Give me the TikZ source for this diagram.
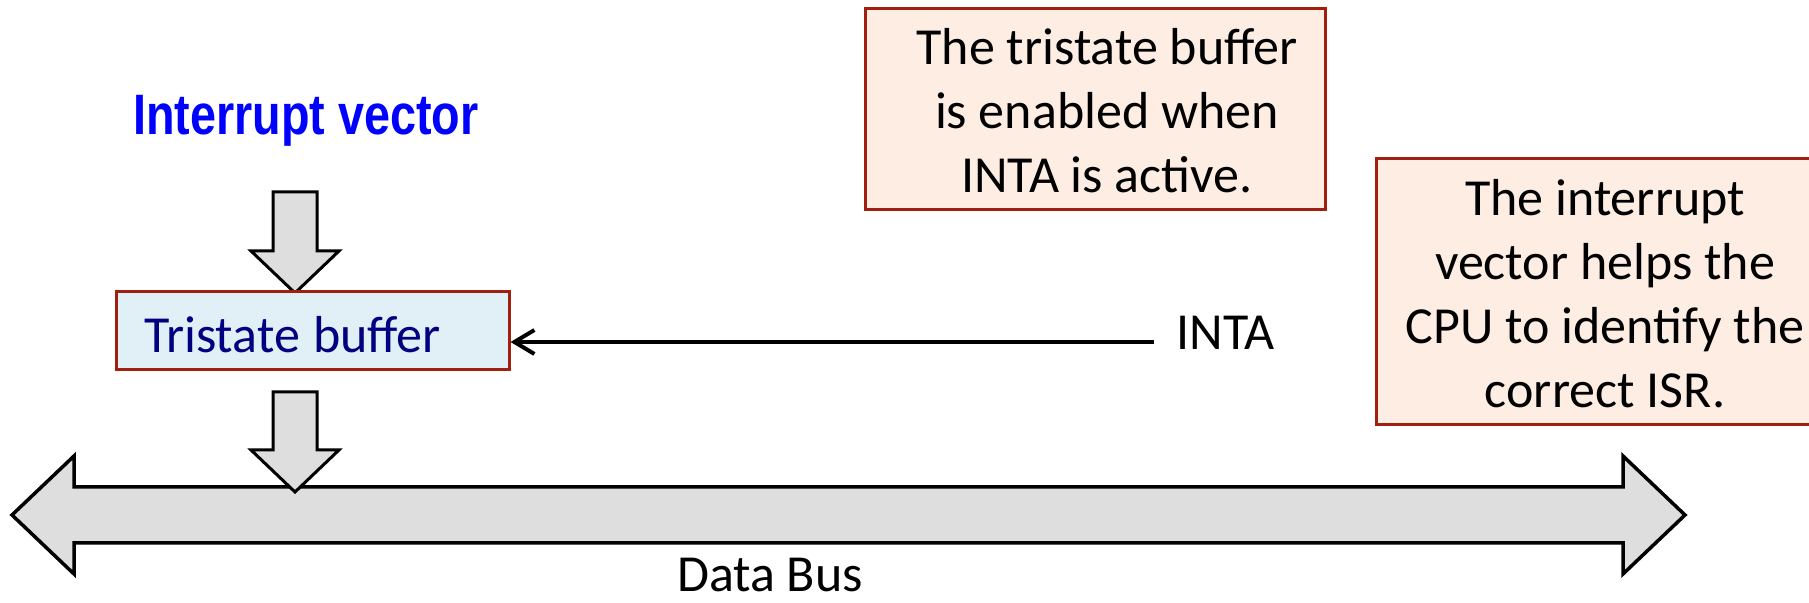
\documentclass[tikz,border=0pt]{standalone}
\usepackage{fontspec}
\usepackage{graphicx}
\setmainfont{Carlito}
\newfontfamily\narrowfont[FakeStretch=0.82]{Liberation Sans}
\usetikzlibrary{arrows.meta}
\definecolor{boxred}{RGB}{160,32,16}
\definecolor{bufblue}{RGB}{225,240,246}
\definecolor{notefill}{RGB}{253,237,226}
\definecolor{arrowgray}{RGB}{222,222,222}
\definecolor{navytext}{RGB}{0,0,128}
\tikzset{
  body/.style={font=\fontsize{26pt}{32pt}\selectfont},
  title/.style={font=\narrowfont\bfseries\fontsize{28.5pt}{34pt}\selectfont, text=blue, inner sep=0pt},
  bufbox/.style={body, draw=boxred, line width=1.5pt, fill=bufblue, text=navytext,
    text width=168.5pt, align=left, inner xsep=14pt, inner ysep=0pt,
    minimum height=39pt, text height=22pt, text depth=0pt},
  notebox/.style={draw=boxred, line width=1.5pt, fill=notefill, inner sep=0pt},
  notetext/.style={body, align=center, inner sep=0pt},
  blockarrow/.style={draw=black, line width=1.5pt, fill=arrowgray, line join=miter},
  busarrow/.style={draw=black, line width=1.75pt, fill=arrowgray, line join=miter},
  signal/.style={line width=2pt, -{Straight Barb[length=10pt,width=12pt]}},
  plainlabel/.style={body, inner sep=0pt}
}
\begin{document}
\begin{tikzpicture}[x=0.5pt,y=-0.5pt]
\useasboundingbox (0,0) rectangle (1809,603);
\clip (0,0) rectangle (1809,603);

% title
\node[title, anchor=base] (iv) at (306,135) {Interrupt vector};

% upper block arrow
\draw[blockarrow] (273,192) -- (317,192) -- (317,251) -- (339,251) -- (295,293)
  -- (251,251) -- (273,251) -- cycle;

% tristate buffer
\node[bufbox] (buf) at (312.5,331) {Tristate\hspace{-2pt} buffer};

% data bus
\draw[busarrow] (12,515) -- (74,456) -- (74,487) -- (1623,487) -- (1623,456)
  -- (1685,515) -- (1623,574) -- (1623,543) -- (74,543) -- (74,574) -- cycle;
\node[plainlabel, anchor=base] (db) at (770,591) {Data Bus};

% lower block arrow
\draw[blockarrow] (273,392) -- (317,392) -- (317,450) -- (339,450) -- (295,492)
  -- (251,450) -- (273,450) -- cycle;

% INTA signal
\node[plainlabel, anchor=base west] (inta) at (1176,350) {INTA};
\coordinate (intaend) at (1154,342);
\draw[signal] (intaend) -- (buf.east |- intaend);

% note 1
\node[notebox, minimum width=230pt, minimum height=100.5pt] (n1) at (1095,109.5) {};
\node[notetext] (n1t) at (1107,110.5) {The tristate buffer\\is enabled when\\INTA is active.};

% note 2
\node[notebox, minimum width=232pt, minimum height=133pt] (n2) at (1608,292) {};
\node[notetext] (n2t) at (1605,294) {The interrupt\\vector helps the\\CPU to identify the\\correct ISR.};
\end{tikzpicture}
\end{document}
